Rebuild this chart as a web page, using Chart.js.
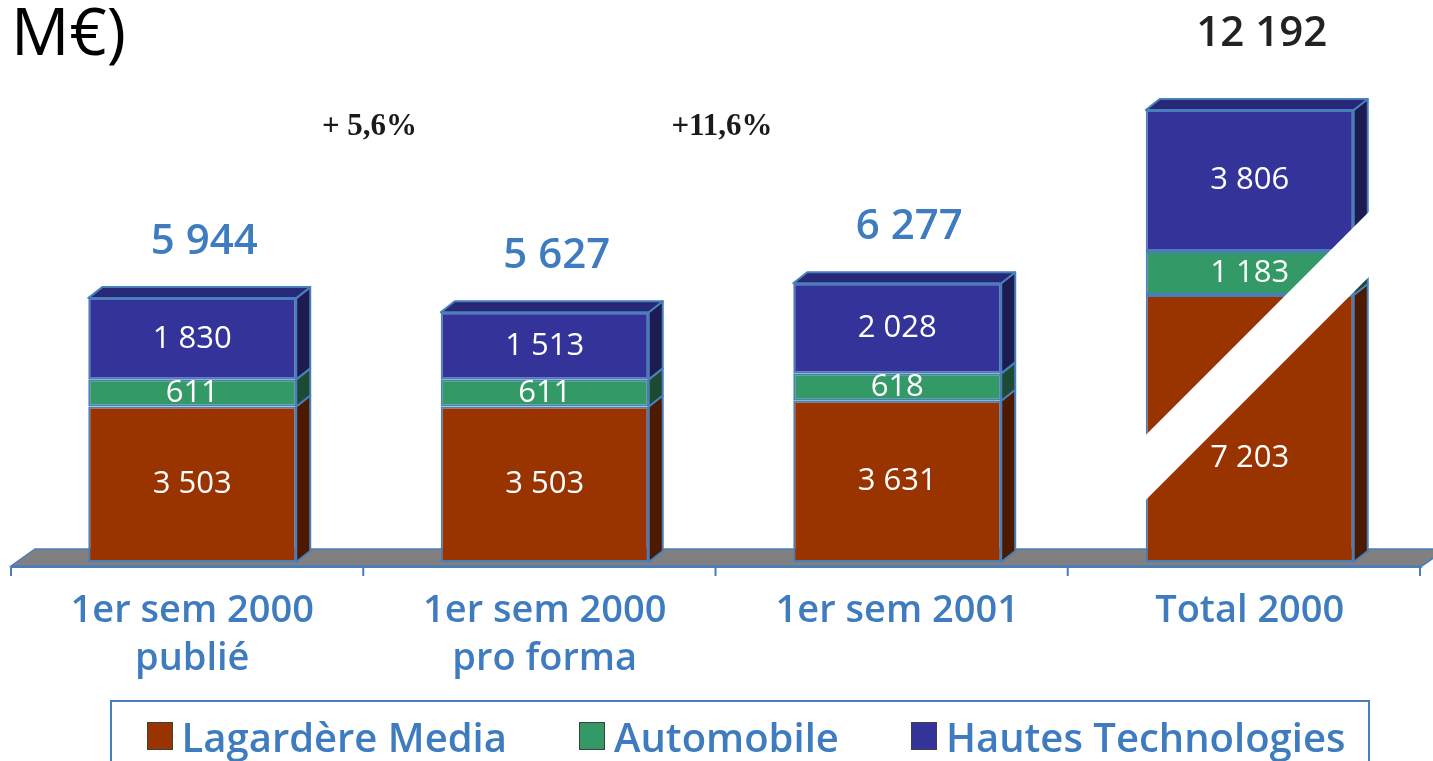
<!DOCTYPE html>
<html lang="fr">
<head>
<meta charset="utf-8">
<script src="https://cdn.jsdelivr.net/npm/chart.js@4.4.1/dist/chart.umd.min.js"></script>
<style>
  html, body { margin: 0; padding: 0; background: #fff; }
  #wrap { position: relative; width: 1433px; height: 761px; overflow: hidden; }
  #legend {
    position: absolute; left: 110px; top: 700px; width: 1244px;
    border: 2px solid #4a7ebb; box-sizing: content-box;
    display: flex; justify-content: center; align-items: center; gap: 72px;
    height: 68px; padding: 0 0 30px 12px;
    font: 600 40px "Open Sans", sans-serif; color: #3e7cbf;
  }
  #legend .item { display: flex; align-items: center; white-space: nowrap; }
  #legend .box { width: 26px; height: 28px; box-sizing: border-box; border: 1px solid #404040; margin-right: 9px; }
</style>
</head>
<body>
<div id="wrap">
  <canvas id="chart" width="1433" height="761"></canvas>
  <div id="legend"></div>
</div>
<script>
// Données (M€)
const categories = [["1er sem 2000", "publié"], ["1er sem 2000", "pro forma"], "1er sem 2001", "Total 2000"];
const seriesNames = ["Lagardère Media", "Automobile", "Hautes Technologies"];
const lagardere = [3503, 3503, 3631, 7203];
const automobile = [611, 611, 618, 1183];
const hautesTech = [1830, 1513, 2028, 3806];
const growthLabels = ["+ 5,6%", "+11,6%"];
const titleText = "M€)";

// la dernière barre (Total 2000) est "cassée" : elle a son propre axe
const brokenIndex = 3;

const frontColors = ["#993300", "#339966", "#333399"];
const sideColors = ["#4d1a00", "#1c4a32", "#1c1c50"];
const topColors = ["#7a2800", "#2a7a50", "#282878"];
const EDGE = "#4a7ebb";
const DX = 14, DY = 11;
const AX = 5; // l'axe dessiné est décalé de quelques px à gauche des barres
const FONT = '"Open Sans", sans-serif';

const fmt = (v) => String(v).replace(/\B(?=(\d{3})+(?!\d))/g, " ");

const series = [lagardere, automobile, hautesTech];
const datasets = [];
series.forEach((vals, s) => {
  datasets.push({
    label: seriesNames[s],
    data: vals.map((v, i) => (i === brokenIndex ? null : v)),
    backgroundColor: frontColors[s],
    yAxisID: "y",
  });
});
series.forEach((vals, s) => {
  datasets.push({
    label: seriesNames[s],
    data: vals.map((v, i) => (i === brokenIndex ? v : null)),
    backgroundColor: frontColors[s],
    yAxisID: "y2",
  });
});

function poly(ctx, pts, fill) {
  ctx.beginPath();
  ctx.moveTo(pts[0][0], pts[0][1]);
  for (let k = 1; k < pts.length; k++) ctx.lineTo(pts[k][0], pts[k][1]);
  ctx.closePath();
  ctx.fillStyle = fill;
  ctx.fill();
  ctx.stroke();
}

// effet 3D, sol, axe, étiquettes
const bars3d = {
  id: "bars3d",
  beforeDatasetsDraw(chart) {
    const { ctx, chartArea: a } = chart;
    const b = a.bottom;
    const left = a.left - AX, right = a.right - AX - 1;
    ctx.save();
    ctx.strokeStyle = EDGE;
    ctx.lineWidth = 1.5;
    poly(ctx, [[left, b + 4], [left + 24, b - 13], [right + 26, b - 13], [right + 2, b + 4]], "#808080");
    ctx.lineWidth = 2;
    ctx.beginPath();
    ctx.moveTo(left, b + 5);
    ctx.lineTo(right + 2, b + 5);
    const step = (right - left) / categories.length;
    for (let i = 0; i <= categories.length; i++) {
      const px = left + i * step;
      ctx.moveTo(px, b + 5);
      ctx.lineTo(px, b + 14);
    }
    ctx.stroke();
    ctx.restore();
  },
  afterDatasetsDraw(chart) {
    const { ctx, chartArea: a } = chart;
    ctx.save();
    ctx.strokeStyle = EDGE;
    ctx.lineWidth = 2;
    ctx.lineJoin = "round";

    categories.forEach((c, i) => {
      const segs = [];
      chart.data.datasets.forEach((ds, d) => {
        if (ds.data[i] == null) return;
        segs.push({ el: chart.getDatasetMeta(d).data[i], value: ds.data[i], s: d % 3 });
      });
      if (!segs.length) return;

      // faces latérales + dessus
      segs.forEach(({ el, s }, k) => {
        const l = el.x - el.width / 2, r = el.x + el.width / 2;
        poly(ctx, [[r, el.y], [r + DX, el.y - DY], [r + DX, el.base - DY], [r, el.base]], sideColors[s]);
        if (k === segs.length - 1) {
          poly(ctx, [[l, el.y], [l + DX, el.y - DY], [r + DX, el.y - DY], [r, el.y]], topColors[s]);
        }
      });

      const first = segs[0].el;
      const last = segs[segs.length - 1].el;

      // coupure de la barre Total
      if (i === brokenIndex) {
        const L = first.x - first.width / 2, B = first.base;
        const x0 = L - 3, x1 = first.x + first.width / 2 + DX + 3;
        const yU = (x) => B - 127 - (x - L);
        const yL = (x) => B - 62 - (x - L);
        ctx.beginPath();
        ctx.moveTo(x0, yU(x0));
        ctx.lineTo(x1, yU(x1));
        ctx.lineTo(x1, yL(x1));
        ctx.lineTo(x0, yL(x0));
        ctx.closePath();
        ctx.fillStyle = "#ffffff";
        ctx.fill();
      }

      // valeurs des segments
      ctx.fillStyle = "#ffffff";
      ctx.font = "500 31px " + FONT;
      ctx.textAlign = "center";
      ctx.textBaseline = "middle";
      segs.forEach(({ el, value }, k) => {
        let y = (el.y + el.base) / 2;
        if (i === brokenIndex && k === 0) y += 30;
        ctx.fillText(fmt(value), el.x, y);
      });

      // total au-dessus
      const total = segs.reduce((t, sg) => t + sg.value, 0);
      ctx.font = "600 42px " + FONT;
      if (i === brokenIndex) {
        ctx.fillStyle = "#222222";
        ctx.fillText(fmt(total), last.x + 12, last.y - 76);
      } else {
        ctx.fillStyle = "#3e7cbf";
        ctx.fillText(fmt(total), last.x + 12, last.y - 56);
      }
    });

    // évolutions entre colonnes
    const step = (a.right - a.left) / categories.length;
    ctx.fillStyle = "#1a1a1a";
    ctx.font = 'bold 31px "Liberation Serif", serif';
    growthLabels.forEach((g, k) => {
      ctx.fillText(g, a.left - AX + (k + 1) * step + 6, a.top + 127);
    });

    // reste du titre
    ctx.textAlign = "left";
    ctx.textBaseline = "alphabetic";
    ctx.font = "65px " + FONT;
    ctx.fillStyle = "#000000";
    ctx.fillText(titleText, 11, 55);
    ctx.restore();
  },
};

const ctx = document.getElementById("chart").getContext("2d");

let config = {
  type: "bar",
  data: { labels: categories, datasets: datasets },
  options: {
    responsive: false,
    animation: false,
    layout: { padding: { left: 11 + AX, right: 12 - AX, top: 0, bottom: 70 } },
    datasets: {
      bar: {
        grouped: false,
        barPercentage: 0.59,
        categoryPercentage: 1,
        borderColor: EDGE,
        borderWidth: 2,
        borderSkipped: false,
      },
    },
    plugins: {
      legend: { display: false },
      tooltip: { enabled: false },
      title: { display: false },
    },
    scales: {
      x: {
        stacked: true,
        grid: { display: false, drawTicks: false },
        border: { display: false },
        ticks: {
          color: "#3e7cbf",
          padding: 26,
          font: { family: "Open Sans", size: 38, weight: "600", lineHeight: 1.24 },
        },
        afterFit: (scale) => { scale.height = 129; },
      },
      y: { stacked: true, display: false, min: 0, max: 12658 },
      y2: { stacked: true, display: false, min: 0, max: 15159 },
    },
  },
  plugins: [bars3d],
};

const chart = new Chart(ctx, config);

// légende HTML (encadrée)
const legendEl = document.getElementById("legend");
seriesNames.forEach((name, s) => {
  const item = document.createElement("div");
  item.className = "item";
  const box = document.createElement("span");
  box.className = "box";
  box.style.background = chart.data.datasets[s].backgroundColor;
  item.appendChild(box);
  item.appendChild(document.createTextNode(name));
  legendEl.appendChild(item);
});
</script>
</body>
</html>
